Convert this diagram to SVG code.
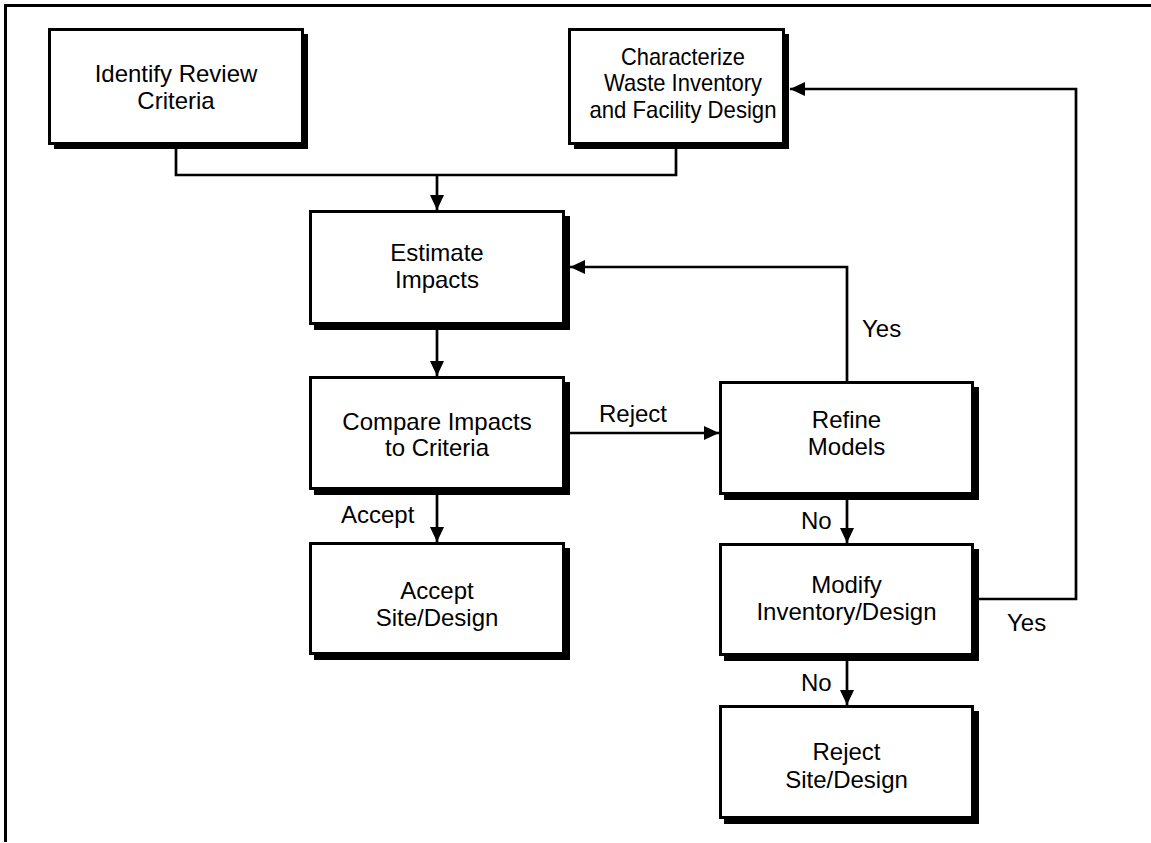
<svg xmlns="http://www.w3.org/2000/svg" width="1151" height="843" viewBox="0 0 1151 843">
<defs>
<style>
.box{fill:#fff;stroke:#000;stroke-width:3}
.sh{fill:#000}
.t{font-family:"Liberation Sans",Arial,sans-serif;font-size:24px;fill:#000;text-anchor:middle}
.l{font-family:"Liberation Sans",Arial,sans-serif;font-size:24px;fill:#000}
.c{fill:none;stroke:#000;stroke-width:2.7}
.frame{fill:none;stroke:#000;stroke-width:3}
</style>
<marker id="ah" markerUnits="userSpaceOnUse" markerWidth="16" markerHeight="15" refX="15" refY="7" orient="auto">
<path d="M0,0 L15,7 L0,14 z" fill="#000"/>
</marker>
</defs>
<rect width="1151" height="843" fill="#fff"/>
<path class="frame" d="M5.5,842 L5.5,5.5 L1151,5.5"/>

<g id="connectors">
<polyline class="c" points="176,149 176,175 676,175 676,149"/>
<line class="c" x1="437" y1="175" x2="437" y2="210" marker-end="url(#ah)"/>
<line class="c" x1="437" y1="330" x2="437" y2="376" marker-end="url(#ah)"/>
<line class="c" x1="437" y1="495" x2="437" y2="542" marker-end="url(#ah)"/>
<line class="c" x1="570" y1="433" x2="719" y2="433" marker-end="url(#ah)"/>
<polyline class="c" points="847,381 847,267 570,267" marker-end="url(#ah)"/>
<line class="c" x1="847" y1="500" x2="847" y2="543" marker-end="url(#ah)"/>
<polyline class="c" points="979,599 1076,599 1076,89 790,89" marker-end="url(#ah)"/>
<line class="c" x1="847" y1="661" x2="847" y2="705" marker-end="url(#ah)"/>
<text class="l" x="599" y="422">Reject</text>
<text class="l" x="862" y="337">Yes</text>
<text class="l" x="341" y="523">Accept</text>
<text class="l" x="801" y="529">No</text>
<text class="l" x="1007" y="631">Yes</text>
<text class="l" x="801" y="691">No</text>
</g>

<g id="identify">
<rect class="sh" x="54" y="34" width="254" height="115"/>
<rect class="box" x="49.5" y="29.5" width="253" height="114"/>
<text class="t" x="176" y="82">Identify Review</text>
<text class="t" x="176" y="109">Criteria</text>
</g>

<g id="characterize">
<rect class="sh" x="574" y="34" width="215" height="115"/>
<rect class="box" x="569.5" y="29.5" width="214" height="114"/>
<text class="t" x="683" y="65" textLength="124" lengthAdjust="spacingAndGlyphs">Characterize</text>
<text class="t" x="683" y="91" textLength="158" lengthAdjust="spacingAndGlyphs">Waste Inventory</text>
<text class="t" x="683" y="118" textLength="187" lengthAdjust="spacingAndGlyphs">and Facility Design</text>
</g>

<g id="estimate">
<rect class="sh" x="314" y="216" width="256" height="114"/>
<rect class="box" x="310.5" y="211.5" width="253" height="112"/>
<text class="t" x="437" y="261">Estimate</text>
<text class="t" x="437" y="288">Impacts</text>
</g>

<g id="compare">
<rect class="sh" x="314" y="382" width="256" height="113"/>
<rect class="box" x="310.5" y="377.5" width="253" height="111"/>
<text class="t" x="437" y="430">Compare Impacts</text>
<text class="t" x="437" y="456">to Criteria</text>
</g>

<g id="accept">
<rect class="sh" x="314" y="548" width="256" height="112"/>
<rect class="box" x="310.5" y="543.5" width="253" height="110"/>
<text class="t" x="437" y="599">Accept</text>
<text class="t" x="437" y="626">Site/Design</text>
</g>

<g id="refine">
<rect class="sh" x="724" y="387" width="255" height="113"/>
<rect class="box" x="720.5" y="382.5" width="252" height="111"/>
<text class="t" x="846.5" y="428">Refine</text>
<text class="t" x="846.5" y="455">Models</text>
</g>

<g id="modify">
<rect class="sh" x="724" y="549" width="255" height="112"/>
<rect class="box" x="720.5" y="544.5" width="252" height="110"/>
<text class="t" x="846.5" y="593">Modify</text>
<text class="t" x="846.5" y="620">Inventory/Design</text>
</g>

<g id="reject">
<rect class="sh" x="724" y="711" width="255" height="113"/>
<rect class="box" x="720.5" y="706.5" width="252" height="111"/>
<text class="t" x="846.5" y="760">Reject</text>
<text class="t" x="846.5" y="788">Site/Design</text>
</g>
</svg>
